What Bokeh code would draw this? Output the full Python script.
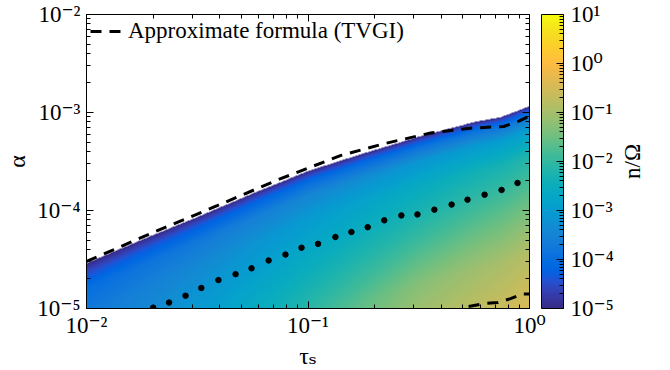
import numpy as np
from bokeh.plotting import figure
from bokeh.models import (LogColorMapper, LogAxis, FixedTicker, CustomJSTickFormatter,
                          Legend, LegendItem, ColorBar)
from bokeh.layouts import row
from bokeh.embed import file_html
from bokeh.resources import INLINE

# ---------------- data ----------------
# upper edge of the coloured region (alpha where n/Omega vanishes)
tau_edge = [0.01, 0.0178, 0.0316, 0.0562, 0.1, 0.178, 0.316, 0.562, 0.741, 1.0]
alpha_edge = [2.88e-5, 5.01e-5, 8.51e-5, 1.48e-4, 2.51e-4, 3.80e-4, 5.62e-4, 7.94e-4, 8.91e-4, 1.15e-3]

# n/Omega (log10) sampled on tau columns and at depths (decades of alpha) below the edge
tau_grid = [0.01, 0.0316, 0.1, 0.316, 1.0]
depth_grid = [0.0, 0.04, 0.1, 0.25, 0.5, 1.0, 1.5, 2.1]
log_n_grid = [
    [-5.0, -5.0, -5.0, -5.0, -5.0],
    [-4.8, -4.7, -4.6, -4.5, -4.4],
    [-4.5, -4.3, -4.1, -3.95, -3.8],
    [-4.0, -3.75, -3.45, -3.15, -2.9],
    [-3.75, -3.4, -3.0, -2.6, -2.2],
    [-3.5, -3.0, -2.5, -2.0, -1.5],
    [-3.3, -2.7, -2.0, -1.3, -0.85],
    [-3.1, -2.4, -1.6, -0.8, -0.4],
]

# approximate formula (TVGI), upper branch and lower branch
tau_formula = [0.01, 0.0195, 0.0389, 0.0724, 0.140, 0.219, 0.357, 0.542, 0.764, 0.90, 1.0]
alpha_formula = [3.02e-5, 5.82e-5, 1.12e-4, 2.04e-4, 3.63e-4, 4.79e-4, 6.17e-4, 6.92e-4, 7.2e-4, 8.2e-4, 9.2e-4]
tau_formula_low = [0.531, 0.620, 0.717, 0.821, 0.929, 1.0]
alpha_formula_low = [1.05e-5, 1.12e-5, 1.15e-5, 1.26e-5, 1.41e-5, 1.41e-5]

# dotted curve
tau_dots = [0.0200, 0.0236, 0.0280, 0.0330, 0.0394, 0.0471, 0.0556, 0.0664, 0.0791, 0.0935,
            0.111, 0.133, 0.157, 0.186, 0.221, 0.264, 0.312, 0.372, 0.445, 0.525,
            0.627, 0.748, 0.883]
alpha_dots = [1.02e-5, 1.15e-5, 1.35e-5, 1.62e-5, 1.95e-5, 2.24e-5, 2.57e-5, 3.09e-5, 3.55e-5, 4.17e-5,
              4.57e-5, 5.37e-5, 6.03e-5, 6.76e-5, 7.94e-5, 8.91e-5, 9.12e-5, 1.02e-4, 1.15e-4, 1.29e-4,
              1.45e-4, 1.62e-4, 1.91e-4]

x_ticks = [1e-2, 1e-1, 1e0]
y_ticks = [1e-5, 1e-4, 1e-3, 1e-2]
cb_ticks = [1e-5, 1e-4, 1e-3, 1e-2, 1e-1, 1e0, 1e1]

# ---------------- colour map (parula) ----------------
PARULA64 = [
    [0.2081, 0.1663, 0.5292], [0.2116, 0.1898, 0.5777], [0.2123, 0.2138, 0.6270], [0.2081, 0.2386, 0.6771],
    [0.1959, 0.2645, 0.7279], [0.1707, 0.2919, 0.7792], [0.1253, 0.3242, 0.8303], [0.0591, 0.3598, 0.8683],
    [0.0117, 0.3875, 0.8820], [0.0060, 0.4086, 0.8828], [0.0165, 0.4266, 0.8786], [0.0329, 0.4430, 0.8720],
    [0.0498, 0.4586, 0.8641], [0.0629, 0.4737, 0.8554], [0.0723, 0.4887, 0.8467], [0.0779, 0.5040, 0.8384],
    [0.0793, 0.5200, 0.8312], [0.0749, 0.5375, 0.8263], [0.0641, 0.5570, 0.8240], [0.0488, 0.5772, 0.8228],
    [0.0343, 0.5966, 0.8199], [0.0265, 0.6137, 0.8135], [0.0239, 0.6287, 0.8038], [0.0231, 0.6418, 0.7913],
    [0.0228, 0.6535, 0.7768], [0.0267, 0.6642, 0.7607], [0.0384, 0.6743, 0.7436], [0.0590, 0.6838, 0.7254],
    [0.0843, 0.6928, 0.7062], [0.1133, 0.7015, 0.6859], [0.1453, 0.7098, 0.6646], [0.1801, 0.7177, 0.6424],
    [0.2178, 0.7250, 0.6193], [0.2586, 0.7317, 0.5954], [0.3022, 0.7376, 0.5712], [0.3482, 0.7424, 0.5473],
    [0.3953, 0.7459, 0.5244], [0.4420, 0.7481, 0.5033], [0.4871, 0.7491, 0.4840], [0.5300, 0.7491, 0.4661],
    [0.5709, 0.7485, 0.4494], [0.6099, 0.7473, 0.4337], [0.6473, 0.7456, 0.4188], [0.6834, 0.7435, 0.4044],
    [0.7184, 0.7411, 0.3905], [0.7525, 0.7384, 0.3768], [0.7858, 0.7356, 0.3633], [0.8185, 0.7327, 0.3498],
    [0.8507, 0.7299, 0.3360], [0.8824, 0.7274, 0.3217], [0.9139, 0.7258, 0.3063], [0.9450, 0.7261, 0.2886],
    [0.9739, 0.7314, 0.2666], [0.9938, 0.7455, 0.2403], [0.9990, 0.7653, 0.2164], [0.9955, 0.7861, 0.1967],
    [0.9880, 0.8066, 0.1794], [0.9789, 0.8271, 0.1633], [0.9697, 0.8481, 0.1475], [0.9626, 0.8705, 0.1309],
    [0.9589, 0.8949, 0.1132], [0.9598, 0.9218, 0.0948], [0.9661, 0.9514, 0.0755], [0.9763, 0.9831, 0.0538],
]
_arr = np.array(PARULA64)
_t64 = np.linspace(0, 1, 64)
palette = []
for t in np.linspace(0, 1, 256):
    rgb = [int(round(255 * np.interp(t, _t64, _arr[:, k]))) for k in range(3)]
    palette.append("#%02x%02x%02x" % tuple(rgb))

mapper = LogColorMapper(palette=palette, low=1e-5, high=10, nan_color=(0, 0, 0, 0.0))

# ---------------- build field image in log space ----------------
NX, NY = 443, 588
ex = np.linspace(-2, 0, NX + 1)
cx = 0.5 * (ex[:-1] + ex[1:])
ey = np.linspace(-5, -2, NY + 1)
cy = 0.5 * (ey[:-1] + ey[1:])
ledge = np.interp(cx, np.log10(tau_edge), np.log10(alpha_edge))
G = np.array(log_n_grid)
lg = np.log10(tau_grid)
Gx = np.array([np.interp(cx, lg, G[r]) for r in range(G.shape[0])])
img = np.full((NY, NX), np.nan)
for j in range(NX):
    d = ledge[j] - cy
    vals = 10.0 ** np.interp(d, depth_grid, Gx[:, j])
    vals[d < 0] = np.nan
    img[:, j] = vals

# ---------------- styling helpers ----------------
FONT = "Liberation Serif, DejaVu Serif, serif"
SUP = CustomJSTickFormatter(code="""
const sup = {'-':'\u207b','0':'\u2070','1':'\u00b9','2':'\u00b2','3':'\u00b3','4':'\u2074',
             '5':'\u2075','6':'\u2076','7':'\u2077','8':'\u2078','9':'\u2079'};
const e = Math.round(Math.log10(tick));
return '10' + String(e).split('').map(c => sup[c]).join('');
""")
BLANK = CustomJSTickFormatter(code="return '';")


def minor_of(ticks):
    out = []
    for t in ticks[:-1]:
        out += [m * t for m in range(2, 10)]
    return out


def style(ax, ticks, labels=True):
    ax.ticker = FixedTicker(ticks=ticks, minor_ticks=minor_of(ticks))
    ax.axis_line_color = "black"
    ax.major_tick_line_color = "black"
    ax.minor_tick_line_color = "black"
    ax.major_tick_in = 7
    ax.major_tick_out = 0
    ax.minor_tick_in = 4
    ax.minor_tick_out = 0
    if labels:
        ax.formatter = SUP
        ax.major_label_text_font = FONT
        ax.major_label_text_font_size = "23px"
        ax.major_label_text_color = "black"
        ax.axis_label_text_font = FONT
        ax.axis_label_text_font_size = "24px"
        ax.axis_label_text_font_style = "normal"
        ax.axis_label_text_color = "black"
    else:
        ax.formatter = BLANK
        ax.major_label_text_font_size = "1px"
        ax.major_label_standoff = 0


H_TOP, H_FRAME, H_BOT = 14, 294, 58

# ---------------- main figure ----------------
p = figure(x_axis_type="log", y_axis_type="log", x_range=(1e-2, 1e0), y_range=(1e-5, 1e-2),
           frame_width=443, frame_height=H_FRAME, min_border_left=86, min_border_right=0,
           min_border_top=H_TOP, min_border_bottom=H_BOT, output_backend="svg", toolbar_location=None)
p.grid.visible = False
p.outline_line_color = "black"
p.outline_line_width = 1

p.image(image=[img], x=1e-2, y=1e-5, dw=1e0 - 1e-2, dh=1e-2 - 1e-5, color_mapper=mapper)

r_formula = p.line(tau_formula, alpha_formula, line_color="black", line_width=3, line_dash="11 8")
p.line(tau_formula_low, alpha_formula_low, line_color="black", line_width=3, line_dash="11 8")
p.scatter(tau_dots, alpha_dots, size=5.5, color="black")

style(p.xaxis[0], x_ticks)
style(p.yaxis[0], y_ticks)
p.xaxis[0].axis_label = "\u03c4\u209b"
p.yaxis[0].axis_label = "\u03b1"
p.xaxis[0].major_label_standoff = 4
p.yaxis[0].major_label_standoff = 6
p.yaxis[0].axis_label_standoff = 4
p.xaxis[0].axis_label_standoff = 2

top_ax = LogAxis()
style(top_ax, x_ticks, labels=False)
p.add_layout(top_ax, "above")
right_ax = LogAxis()
style(right_ax, y_ticks, labels=False)
# an empty-looking axis label keeps a small gap between the frame and the colour bar
right_ax.axis_label = " "
right_ax.axis_label_text_font_size = "8px"
right_ax.axis_label_standoff = 0
p.add_layout(right_ax, "right")

legend = Legend(items=[LegendItem(label="Approximate formula (TVGI)", renderers=[r_formula])],
                location="top_left", border_line_color=None, background_fill_alpha=0,
                label_text_font=FONT, label_text_font_size="23px", label_text_color="black",
                glyph_width=32, margin=4, padding=6, label_standoff=6)
p.add_layout(legend)

# ---------------- colour bar ----------------
color_bar = ColorBar(color_mapper=mapper, width=22, height=H_FRAME, location="top_left",
                     margin=0, padding=0,
                     ticker=FixedTicker(ticks=cb_ticks, minor_ticks=minor_of(cb_ticks)),
                     formatter=SUP, label_standoff=7,
                     major_label_text_font=FONT, major_label_text_font_size="23px",
                     major_label_text_color="black",
                     bar_line_color="black", bar_line_width=1,
                     major_tick_line_color="black", major_tick_in=7, major_tick_out=0,
                     minor_tick_line_color="black", minor_tick_in=4, minor_tick_out=0,
                     background_fill_alpha=0, border_line_color=None)
p.add_layout(color_bar, "right")

# ---------------- colour bar title (reads bottom-to-top) ----------------
lab = figure(y_axis_type="log", x_range=(0, 1), y_range=(1e-5, 1e1),
             frame_width=1, frame_height=H_FRAME, min_border_left=32, min_border_right=0,
             min_border_top=H_TOP, min_border_bottom=H_BOT, x_axis_location=None,
             output_backend="svg", toolbar_location=None)
lab.grid.visible = False
lab.outline_line_color = None
lab.background_fill_color = None
la = lab.yaxis[0]
la.axis_label = "n/\u03a9"
la.axis_label_text_font = FONT
la.axis_label_text_font_size = "23px"
la.axis_label_text_font_style = "normal"
la.axis_label_text_color = "black"
la.axis_label_standoff = 4
la.axis_line_color = None
la.major_tick_line_color = None
la.minor_tick_line_color = None
la.formatter = BLANK
la.major_label_text_font_size = "1px"
la.major_label_standoff = 0

layout = row(p, lab)
open("out.html", "w").write(file_html(layout, INLINE))
